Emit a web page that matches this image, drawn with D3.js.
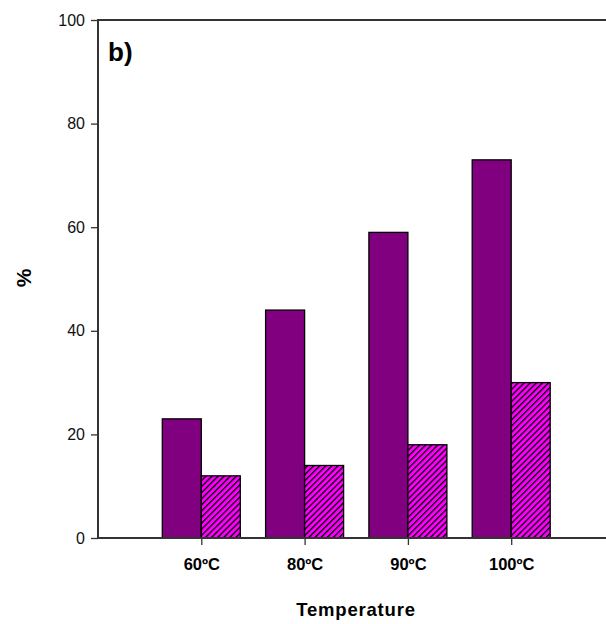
<!DOCTYPE html>
<html>
<head>
<meta charset="utf-8">
<script src="https://cdn.jsdelivr.net/npm/d3@7"></script>
<style>
  html, body { margin: 0; padding: 0; background: #fff; }
  svg { display: block; font-family: Arial, "Liberation Sans", sans-serif; }
</style>
</head>
<body>
<svg id="chart" width="606" height="624"></svg>
<script>
// Temperature groups and the two measured percentages per group
const categories = ["60ºC", "80ºC", "90ºC", "100ºC"];
const seriesA = [23, 44, 59, 73];   // solid purple bars
const seriesB = [12, 14, 18, 30];   // hatched magenta bars
const yTicks = [0, 20, 40, 60, 80, 100];

(function () {
  const svg = d3.select("#chart");
  const W = 606;
  const plotLeft = 98, plotTop = 20, plotBottom = 538;
  const step = 103.3;

  // y: percentage scale
  const y = d3.scaleLinear().domain([0, 100]).range([plotBottom, plotTop]);
  // x: group index; groups sit at positions 1..4, the frame starts at 0
  const x = d3.scaleLinear().domain([0, 1]).range([plotLeft, plotLeft + step]);
  const barW = 39;

  // hatch fill for the second series
  const hs = 4.3;
  const defs = svg.append("defs");
  const pat = defs.append("pattern")
    .attr("id", "hatch")
    .attr("patternUnits", "userSpaceOnUse")
    .attr("width", hs).attr("height", hs)
    .attr("patternTransform", "rotate(45)");
  pat.append("rect").attr("width", hs).attr("height", hs).attr("fill", "#ff00ff");
  pat.append("line").attr("x1", 0.7).attr("y1", 0).attr("x2", 0.7).attr("y2", hs)
    .attr("stroke", "#000").attr("stroke-width", 1.35);

  // bars
  const g = svg.append("g");
  g.selectAll("rect.a").data(seriesA).join("rect")
    .attr("class", "a")
    .attr("x", (d, i) => x(i + 1) - barW)
    .attr("y", d => y(d))
    .attr("width", barW)
    .attr("height", d => y(0) - y(d))
    .attr("fill", "#800080")
    .attr("stroke", "#000").attr("stroke-width", 1.3);

  g.selectAll("rect.b").data(seriesB).join("rect")
    .attr("class", "b")
    .attr("x", (d, i) => x(i + 1))
    .attr("y", d => y(d))
    .attr("width", barW)
    .attr("height", d => y(0) - y(d))
    .attr("fill", "url(#hatch)")
    .attr("stroke", "#000").attr("stroke-width", 1.3);

  // y axis
  const yAxis = svg.append("g")
    .attr("transform", `translate(${plotLeft},0)`)
    .call(d3.axisLeft(y).tickValues(yTicks).tickSize(7).tickPadding(6).tickFormat(d3.format("d")));
  yAxis.select(".domain").remove();
  yAxis.selectAll("line").attr("stroke", "#333").attr("stroke-width", 1.3);
  yAxis.selectAll("text").attr("font-size", 16).attr("fill", "#111")
    .attr("font-family", "Arial, 'Liberation Sans', sans-serif");

  // x axis ticks and labels at the group centres
  const xAxis = svg.append("g")
    .attr("transform", `translate(0,${plotBottom})`)
    .call(d3.axisBottom(x).tickValues([1, 2, 3, 4]).tickSize(7).tickPadding(13)
      .tickFormat(d => categories[d - 1]));
  xAxis.select(".domain").remove();
  xAxis.selectAll("line").attr("stroke", "#333").attr("stroke-width", 1.3);
  xAxis.selectAll("text").attr("font-size", 16.5).attr("font-weight", "bold").attr("fill", "#000")
    .attr("font-family", "Arial, 'Liberation Sans', sans-serif");

  // frame lines: left, top and bottom
  const frame = svg.append("g").attr("stroke", "#333").attr("stroke-width", 2).attr("fill", "none");
  frame.append("line").attr("x1", plotLeft).attr("x2", plotLeft).attr("y1", plotTop - 1).attr("y2", plotBottom + 1);
  frame.append("line").attr("x1", plotLeft).attr("x2", W).attr("y1", plotTop).attr("y2", plotTop);
  frame.append("line").attr("x1", plotLeft).attr("x2", W).attr("y1", plotBottom).attr("y2", plotBottom);

  // panel label
  svg.append("text").attr("x", 108).attr("y", 61)
    .attr("font-size", 26).attr("font-weight", "bold").text("b)");

  // axis titles
  svg.append("text")
    .attr("x", 356).attr("y", 616)
    .attr("text-anchor", "middle")
    .attr("font-size", 18.5).attr("font-weight", "bold")
    .attr("letter-spacing", 0.8)
    .text("Temperature");

  svg.append("text")
    .attr("transform", "translate(31,278) rotate(-90)")
    .attr("text-anchor", "middle")
    .attr("font-size", 21).attr("font-weight", "bold")
    .text("%");
})();
</script>
</body>
</html>
